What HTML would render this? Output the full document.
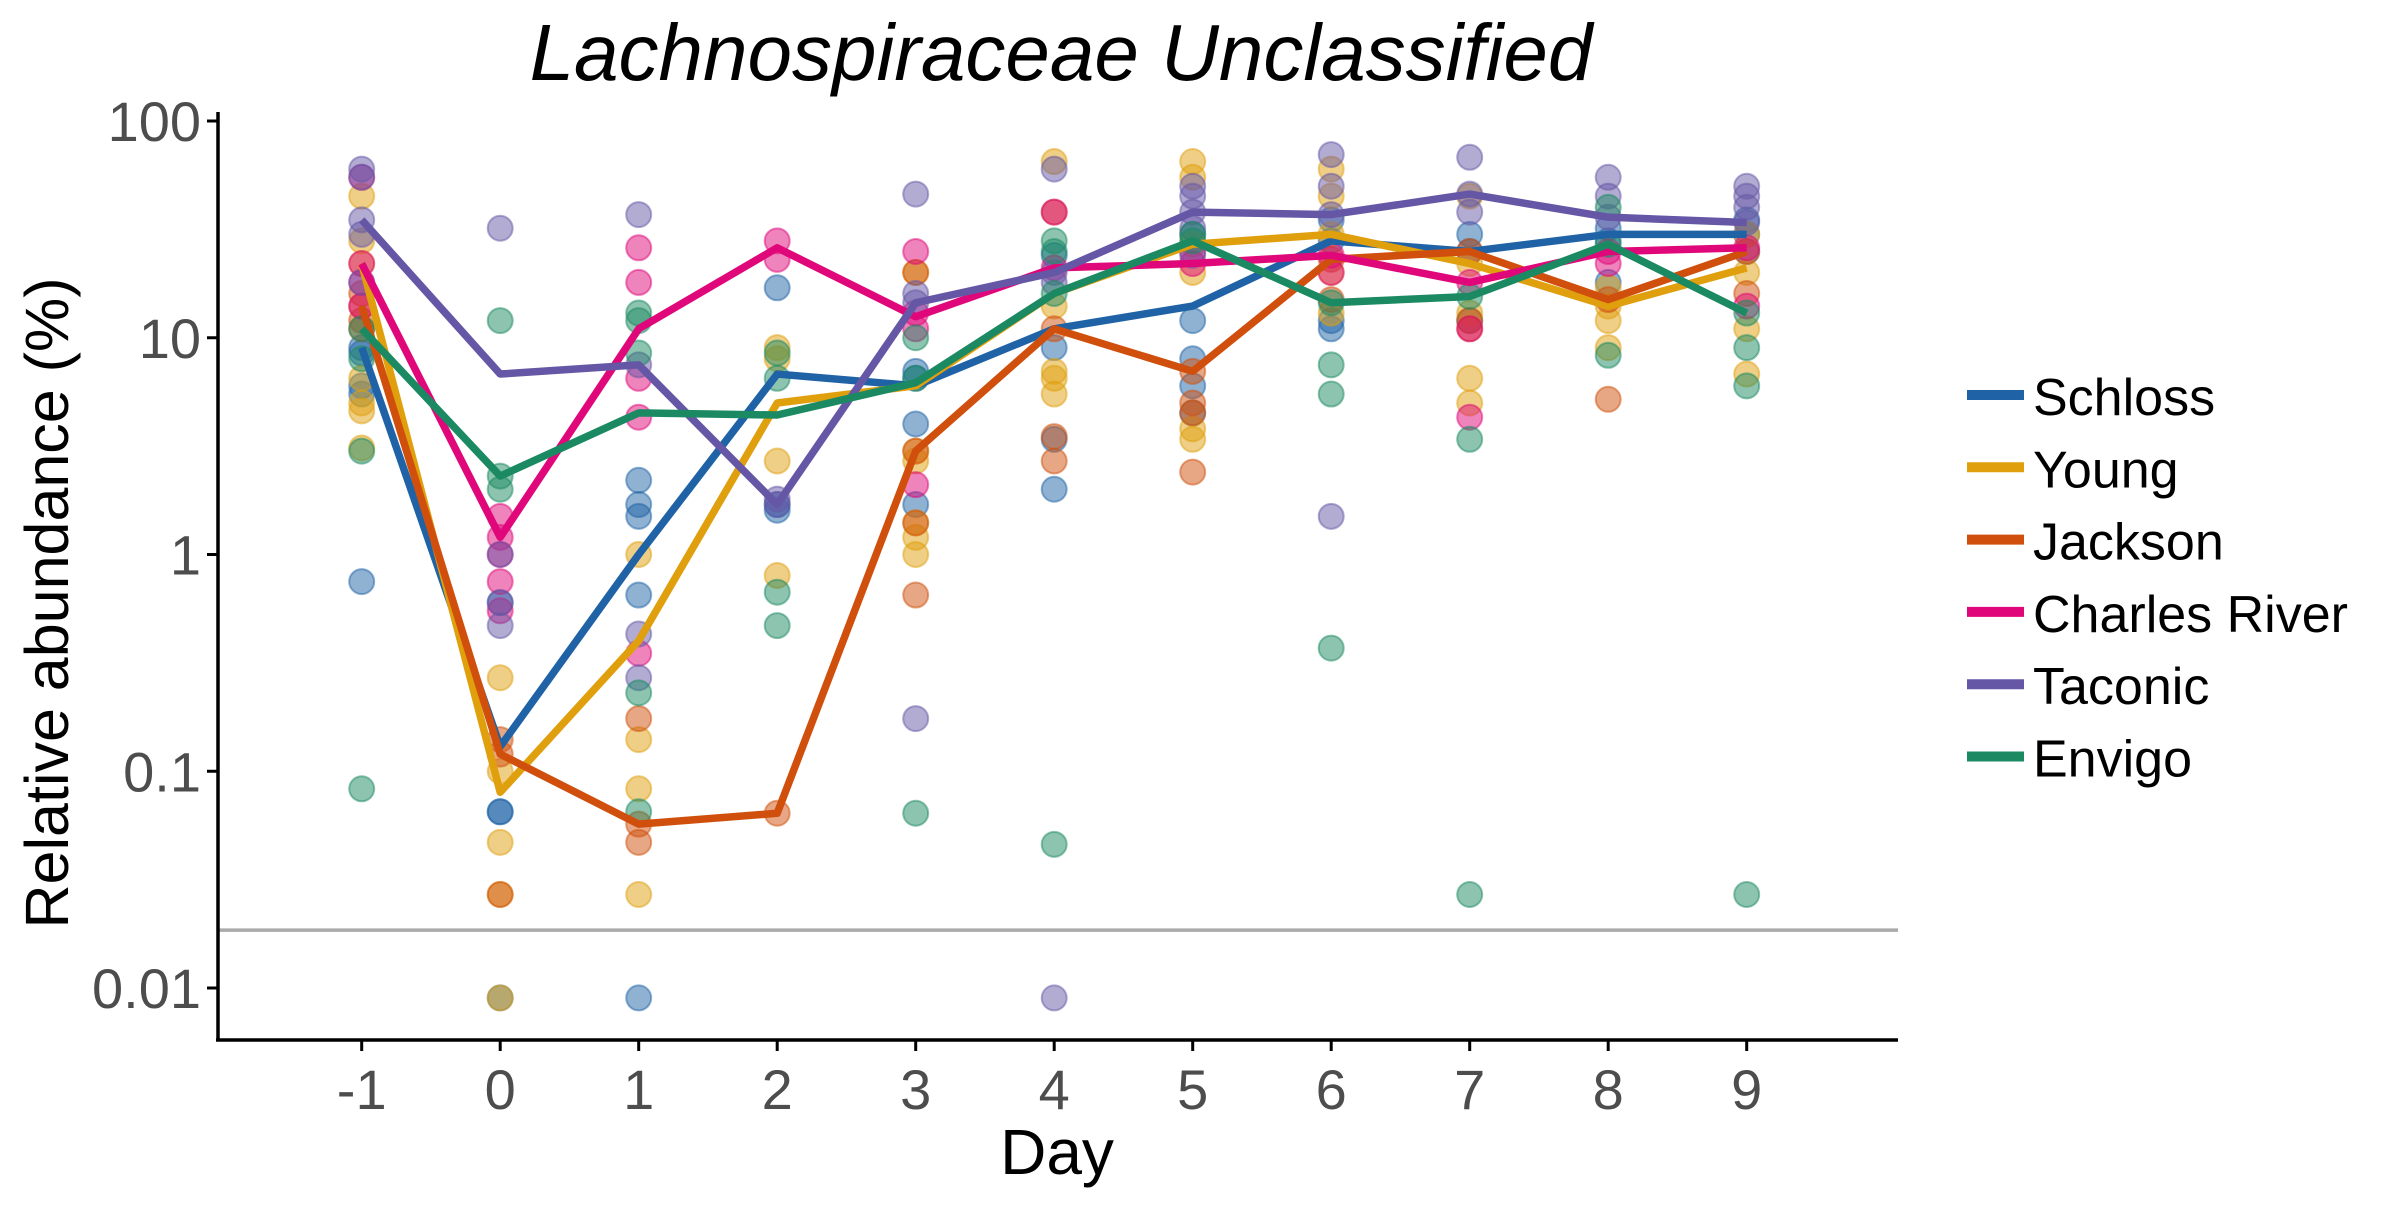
<!DOCTYPE html>
<html><head><meta charset="utf-8"><style>
html,body{margin:0;padding:0;background:#fff;}
svg text{font-family:"Liberation Sans",sans-serif;}
</style></head><body>
<svg id="chart" width="2400" height="1200" xmlns="http://www.w3.org/2000/svg"></svg>
<script>
const days = [-1,0,1,2,3,4,5,6,7,8,9];
const seriesNames = ["Schloss","Young","Jackson","Charles River","Taconic","Envigo"];
const seriesColors = ["#1f63a6","#e09f0d","#d04f0c","#e0077a","#6557a5","#1b8a62"];
const yTickValues = [100,10,1,0.1,0.01];
const yTickLabels = ["100","10","1","0.1","0.01"];
const xTickLabels = ["-1","0","1","2","3","4","5","6","7","8","9"];
const detectionLimit = 0.0185;
const meanSchloss = [9,0.13,1.0,6.8,6,11,14,28,25,30,30];
const meanYoung = [22,0.08,0.4,5,6,16,27,30,22,14,21];
const meanJackson = [14,0.12,0.057,0.064,3,11,7,23,25,15,25];
const meanCharles = [22,1.2,11,26,12.5,21,22,24,18,25,26];
const meanTaconic = [35,6.8,7.5,1.7,14.5,20,38,37,46,36,34];
const meanEnvigo = [11,2.3,4.5,4.4,6.2,16,28,14.5,15.5,27,13];
const ptsSchloss = [[8.5,5.5,9,0.75,6],[0.065,0.065,0.6,0.009],[2.2,1.7,0.65,0.009,1.5],[17,1.6,1.7],[7,4,1.7,6.5],[2,3.4,24,9],[8,6,4.5,30,12],[11,28,35,12],[25,12,30],[18,32,28],[30,35,25]];
const ptsYoung = [[45,28,6.5,4.6,3.1,5,22],[0.27,0.047,0.027,0.009,0.1],[1,0.14,0.083,0.027],[9,8,2.7,0.8],[20,3,2.7,1.2,1,1.4],[65,7,5.5,6.5,14],[65,55,27,20,3.4,3.8],[60,45,30,20,13],[45,22,6.5,5,13],[17,12,9,14],[30,20,11,6.8]];
const ptsJackson = [[14,12,11,16],[0.14,0.12,0.027],[0.175,0.047,0.057],[0.064],[3,1.4,0.65,20],[38,2.7,3.5,11],[7,5,2.4,4.5],[23,15],[25,11,12],[15,5.2],[25,16]];
const ptsCharles = [[22,18,14,55],[1.2,1.0,0.75,0.55,1.5],[26,18,6.5,4.3,0.35],[28,23],[25,13,11,2.1],[21,38],[22,25],[24,20],[18,4.3,11],[25,22],[26,14]];
const ptsTaconic = [[60,55,35,30,18],[32,1,0.6,0.47],[37,0.43,0.27,7.5],[1.7,1.8],[46,16,0.175,14.5],[60,20,18,0.009],[50,45,38,32,24],[70,50,37,1.5],[68,46,38],[55,36,45],[50,45,40,34]];
const ptsEnvigo = [[11,3,0.083,8],[12,2,2.3],[13,12,8.5,0.23,0.065],[8.5,6.5,0.67,0.47],[10,6.5,0.064],[28,25,16,0.046],[28,30],[14.5,7.5,5.5,0.37],[15.5,3.4,0.027],[27,8.3,40],[13,9,6,0.027]];
const means = [meanSchloss,meanYoung,meanJackson,meanCharles,meanTaconic,meanEnvigo];
const points = [ptsSchloss,ptsYoung,ptsJackson,ptsCharles,ptsTaconic,ptsEnvigo];

const NS="http://www.w3.org/2000/svg";
const svg=document.getElementById('chart');
function xs(d){return 361.7+(d+1)*138.5;}
function ys(v){return 121+(2-Math.log10(v))*216.75;}
function mk(tag,attrs,parent){const e=document.createElementNS(NS,tag);for(const k in attrs)e.setAttribute(k,attrs[k]);(parent||svg).appendChild(e);return e;}
const slug=s=>s.toLowerCase().replace(/\s+/g,'-');

let t=mk('text',{x:1061,y:80,'font-size':80,'font-style':'italic','text-anchor':'middle',fill:'#000'});
t.textContent='Lachnospiraceae Unclassified';



let dl=mk('line',{x1:218,x2:1898,y1:ys(detectionLimit),y2:ys(detectionLimit),stroke:'#aaaaaa','stroke-width':3.5});



points.forEach((ser,si)=>{
  const g=mk('g',{});
  
  
  ser.forEach((vals,di)=>{vals.forEach(v=>{
    const c=mk('circle',{cx:xs(days[di]),cy:ys(v),r:12.5,fill:seriesColors[si],'fill-opacity':0.5,stroke:seriesColors[si],'stroke-opacity':0.5,'stroke-width':2},g);
    
    
  });});
});
means.forEach((m,si)=>{
  const p=mk('polyline',{points:m.map((v,i)=>xs(days[i])+','+ys(v)).join(' '),fill:'none',stroke:seriesColors[si],'stroke-width':7.5,'stroke-linejoin':'round'});
  
  
});
let ya=mk('line',{x1:218,x2:218,y1:112,y2:1040,stroke:'#000','stroke-width':3.5});


let xa=mk('line',{x1:216,x2:1898,y1:1040,y2:1040,stroke:'#000','stroke-width':3.5});


yTickValues.forEach((v,i)=>{
  mk('line',{x1:207,x2:218,y1:ys(v),y2:ys(v),stroke:'#000','stroke-width':3});
  const l=mk('text',{x:201,y:ys(v)+20,'font-size':56,'text-anchor':'end',fill:'#4d4d4d'});
  l.textContent=yTickLabels[i];
  
  
});
days.forEach((d,i)=>{
  mk('line',{x1:xs(d),x2:xs(d),y1:1040,y2:1051,stroke:'#000','stroke-width':3});
  const l=mk('text',{x:xs(d),y:1109,'font-size':56,'text-anchor':'middle',fill:'#4d4d4d'});
  l.textContent=xTickLabels[i];
  
  
});
let xt=mk('text',{x:1057,y:1174,'font-size':64,'text-anchor':'middle',fill:'#000'});
xt.textContent='Day';


let yt=mk('text',{x:0,y:0,'font-size':61,'text-anchor':'middle',fill:'#000',transform:'translate(68,603) rotate(-90)'});
yt.textContent='Relative abundance (%)';


seriesNames.forEach((n,i)=>{
  const g=mk('g',{});
  
  
  const y=395+i*72.3;
  mk('line',{x1:1967,x2:2024,y1:y,y2:y,stroke:seriesColors[i],'stroke-width':10},g);
  const l=mk('text',{x:2033,y:y+20,'font-size':52,fill:'#000'},g);
  l.textContent=n;
});
</script>
</body></html>
